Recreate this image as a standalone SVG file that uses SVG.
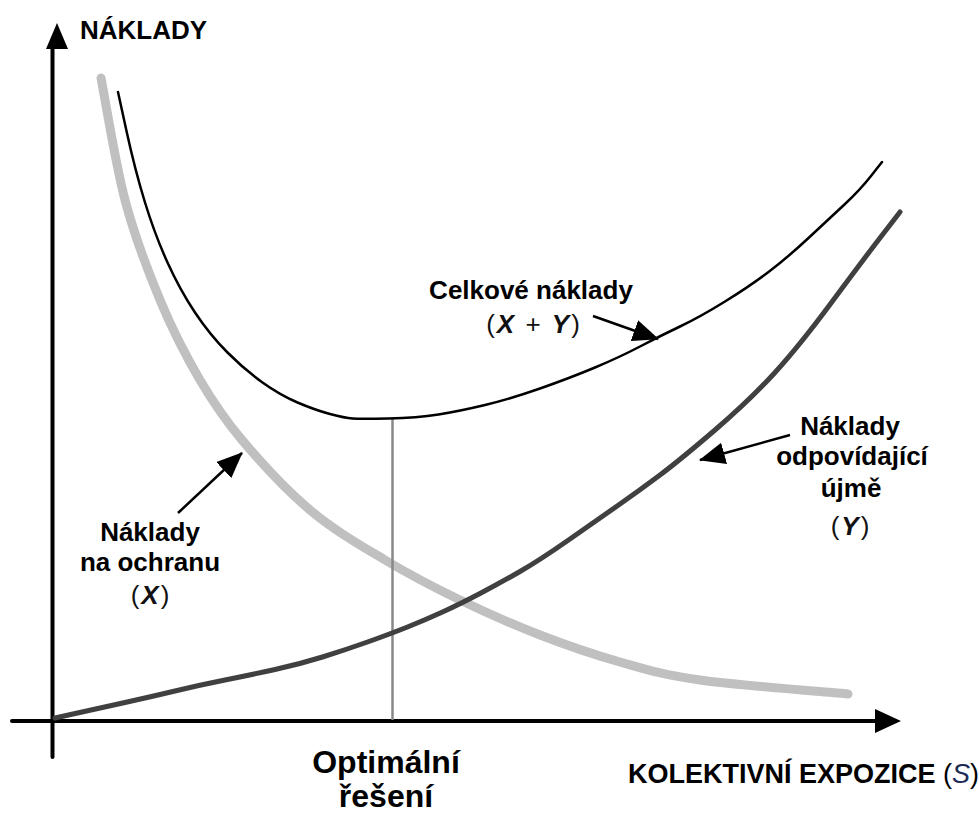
<svg xmlns="http://www.w3.org/2000/svg" width="979" height="814" viewBox="0 0 979 814">
  <style>
    .lbl { font-family: "Liberation Sans", Arial, sans-serif; font-weight: bold; font-size: 26px; fill: #000; }
    .big { font-size: 32px; }
    .axis-lbl { font-size: 27px; }
    .math { font-family: "Liberation Sans", Arial, sans-serif; font-size: 26px; fill: #111; letter-spacing: 2px; }
    .var { font-style: italic; font-weight: bold; }
    .axis { stroke: #000; stroke-width: 4; fill: none; stroke-linecap: round; }
    .pointer { stroke: #000; stroke-width: 2.5; fill: none; marker-end: url(#head); }
  </style>
  <defs>
    <marker id="head" markerUnits="userSpaceOnUse" markerWidth="26" markerHeight="22" refX="25" refY="11" orient="auto">
      <path d="M0,0 L26,11 L0,22 Z" fill="#000"/>
    </marker>
  </defs>
  <rect width="979" height="814" fill="#fff"/>

  <!-- axes -->
  <g id="axes">
    <line class="axis" x1="52.5" y1="45" x2="52.5" y2="757"/>
    <polygon points="57,23 68,49 46,49" fill="#000"/>
    <line class="axis" x1="12" y1="721" x2="880" y2="721"/>
    <polygon points="901,721 875,709 875,733" fill="#000"/>
  </g>

  <!-- protection cost curve X -->
  <g id="curve-x">
    <path d="M101,78 C105,98 115.2,163 125,200 C134.8,237 147.5,270 160,300 C172.5,330 186.3,356.7 200,380 C213.7,403.3 223.7,418.3 242,440 C260.3,461.7 286.2,490 310,510 C333.8,530 360,545 385,560 C410,575 434.2,587.5 460,600 C485.8,612.5 513.3,624.7 540,635 C566.7,645.3 593.3,654.5 620,662 C646.7,669.5 662,674.7 700,680 C738,685.3 823.3,691.7 848,694" fill="none" stroke="#c0c0c0" stroke-width="9" stroke-linecap="round"/>
  </g>

  <!-- optimum marker -->
  <g id="optimum">
    <line x1="392.5" y1="419" x2="392.5" y2="720" stroke="#888" stroke-width="2.5"/>
  </g>

  <!-- detriment cost curve Y -->
  <g id="curve-y">
    <path d="M55,718 L77.5,713 Q100,708 125,702.5 Q150,697 175,691 Q200,685 225,680 Q250,675 275,669.5 Q300,664 322.5,657 Q345,650 367.5,642 Q390,634 407.5,627 Q425,620 442.5,612 Q460,604 480,593.5 Q500,583 520,571.5 Q540,560 570,539 Q600,518 620,504 Q640,490 660,475 Q680,460 715,430 Q750,400 775,372.5 Q800,345 831.5,302.5 Q863,260 881.5,236 L900,212" fill="none" stroke="#404040" stroke-width="5" stroke-linecap="round" stroke-linejoin="round"/>
  </g>

  <!-- total cost curve X + Y -->
  <g id="curve-total">
    <path d="M118,92 L126.5,131 Q135,170 145,202.5 Q155,235 167.5,262.5 Q180,290 195,312.5 Q210,335 227.5,352.5 Q245,370 262.5,382.5 Q280,395 297.5,402.5 Q315,410 330,414 Q345,418 352.5,418.5 Q360,419 388.5,418.5 Q417,418 438.5,414.5 Q460,411 485,405 Q510,399 540,388.5 Q570,378 595,367.5 Q620,357 640,346.5 Q660,336 680,326.5 Q700,317 725,301.5 Q750,286 768.5,272 Q787,258 808.5,238 Q830,218 845,204 Q860,190 871,176 L882,162" fill="none" stroke="#000" stroke-width="2.5" stroke-linecap="round" stroke-linejoin="round"/>
  </g>

  <!-- label pointers -->
  <g id="connectors">
    <line class="pointer" x1="593" y1="316" x2="658" y2="339"/>
    <line class="pointer" x1="178" y1="513" x2="242" y2="453"/>
    <line class="pointer" x1="790" y1="435" x2="700" y2="460"/>
  </g>

  <g id="label-axis-y">
    <text class="lbl" x="80" y="39">NÁKLADY</text>
  </g>

  <g id="label-total">
    <text class="lbl" x="531" y="299" text-anchor="middle">Celkové náklady</text>
    <text class="math" x="534" y="333" text-anchor="middle">(<tspan class="var">X</tspan> + <tspan class="var">Y</tspan>)</text>
  </g>

  <g id="label-x">
    <text class="lbl" x="150" y="541" text-anchor="middle">Náklady</text>
    <text class="lbl" x="150" y="571" text-anchor="middle">na ochranu</text>
    <text class="math" x="151" y="604" text-anchor="middle">(<tspan class="var">X</tspan>)</text>
  </g>

  <g id="label-y">
    <text class="lbl" x="850" y="435" text-anchor="middle">Náklady</text>
    <text class="lbl" x="852" y="465" text-anchor="middle">odpovídající</text>
    <text class="lbl" x="851" y="497" text-anchor="middle">újmě</text>
    <text class="math" x="851" y="535" text-anchor="middle">(<tspan class="var">Y</tspan>)</text>
  </g>

  <g id="label-optimum">
    <text class="lbl big" x="386" y="773" text-anchor="middle">Optimální</text>
    <text class="lbl big" x="386" y="807" text-anchor="middle">řešení</text>
  </g>

  <g id="label-axis-x">
    <text class="lbl axis-lbl" x="628" y="783">KOLEKTIVNÍ EXPOZICE <tspan font-weight="normal">(</tspan><tspan font-style="italic" font-weight="normal" fill="#1a2a55">S</tspan><tspan font-weight="normal">)</tspan></text>
  </g>
</svg>
